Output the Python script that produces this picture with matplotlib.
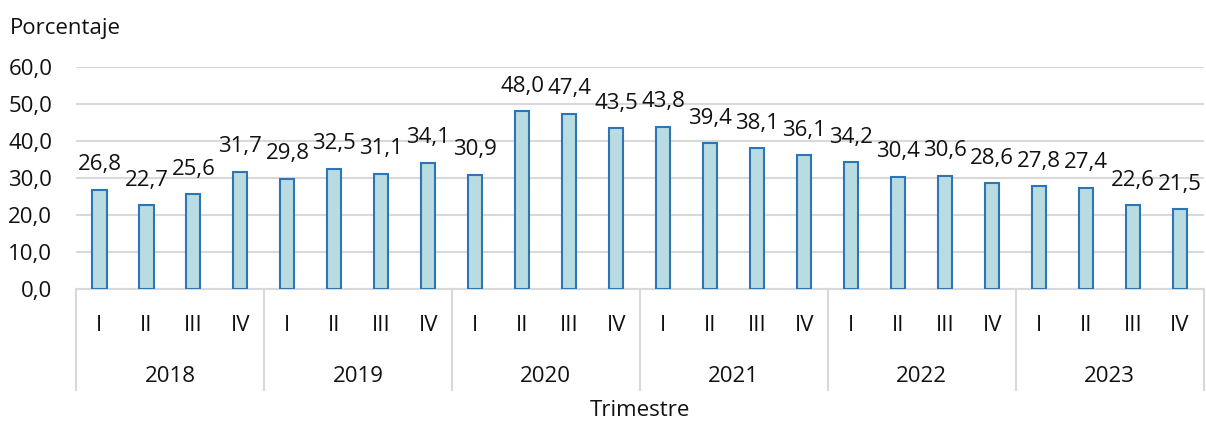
import matplotlib
matplotlib.use('Agg')
import matplotlib.pyplot as plt
from matplotlib.lines import Line2D

plt.rcParams['font.family'] = ['Open Sans', 'DejaVu Sans']

years = ['2018', '2019', '2020', '2021', '2022', '2023']
quarters = ['I', 'II', 'III', 'IV']
values = [26.8, 22.7, 25.6, 31.7,
          29.8, 32.5, 31.1, 34.1,
          30.9, 48.0, 47.4, 43.5,
          43.8, 39.4, 38.1, 36.1,
          34.2, 30.4, 30.6, 28.6,
          27.8, 27.4, 22.6, 21.5]
y_ticks = [0, 10, 20, 30, 40, 50, 60]

fs = 16
fig = plt.figure(figsize=(12.06, 4.25), dpi=100)
ax = fig.add_axes([0.063, 0.32, 0.935, 0.5224])

x = list(range(len(values)))
ax.bar(x, values, width=0.3, color='#B8DCE2', edgecolor='#2E75B6',
       linewidth=1.5, zorder=3)

# etiquetas sobre las barras
for xi, v in zip(x, values):
    ax.annotate(f'{v:.1f}'.replace('.', ','), (xi, v), xytext=(0, 14),
                textcoords='offset points', ha='center', va='baseline',
                fontsize=fs, color='#111111')

ax.set_xlim(-0.5, len(values) - 0.5)
ax.set_ylim(0, 60)
ax.set_yticks(y_ticks)
ax.set_yticklabels([f'{t:.1f}'.replace('.', ',') for t in y_ticks])
ax.tick_params(axis='y', length=0, pad=17, labelsize=fs, labelcolor='#111111')
ax.set_xticks([])
ax.grid(True, axis='y', color='#D9D9D9', linewidth=1.5, zorder=0)

for s in ['top', 'right', 'left']:
    ax.spines[s].set_visible(False)
ax.spines['bottom'].set_color('#D9D9D9')
ax.spines['bottom'].set_linewidth(1.5)

# eje de categorías en dos niveles
tr = ax.get_xaxis_transform()
for i, q in enumerate(quarters * len(years)):
    ax.text(i, -0.165, q, transform=tr, ha='center', va='center',
            fontsize=fs, color='#111111')
for j, yr in enumerate(years):
    ax.text(j * 4 + 1.5, -0.395, yr, transform=tr, ha='center', va='center',
            fontsize=fs, color='#111111')
for j in range(len(years) + 1):
    xs = j * 4 - 0.5
    ax.add_line(Line2D([xs, xs], [0, -0.455], transform=tr, color='#D9D9D9',
                       linewidth=1.5, clip_on=False))

fig.text(0.008, 0.932, 'Porcentaje', fontsize=fs, ha='left', va='center',
         color='#111111')
fig.text(0.531, 0.033, 'Trimestre', fontsize=fs, ha='center', va='center',
         color='#111111')

fig.savefig('out.png', dpi=100)
